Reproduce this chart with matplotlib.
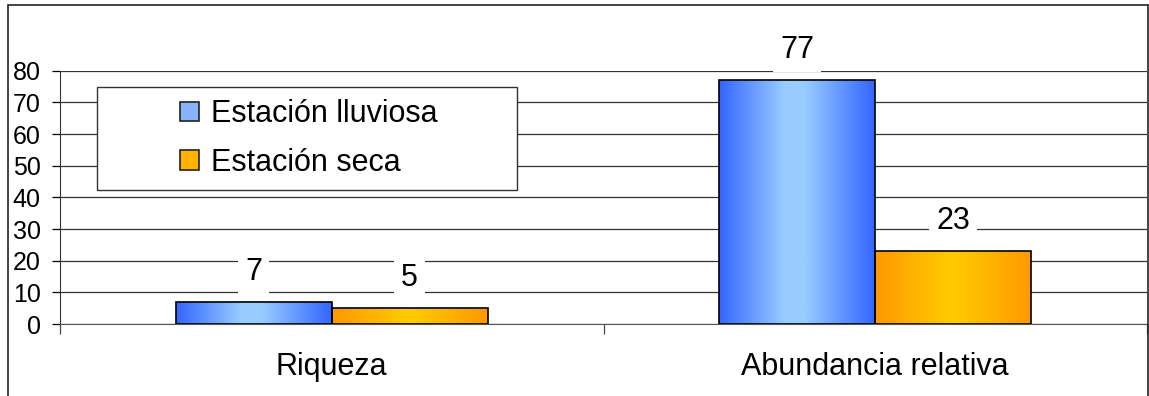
import matplotlib.pyplot as plt
import numpy as np
from matplotlib.colors import LinearSegmentedColormap
from matplotlib.patches import Patch, Rectangle

plt.rcParams['font.family'] = ['Liberation Sans', 'DejaVu Sans']

categorias = ["Riqueza", "Abundancia relativa"]
series = ["Estación lluviosa", "Estación seca"]
lluviosa = [7, 77]
seca = [5, 23]
yticks = [0, 10, 20, 30, 40, 50, 60, 70, 80]

# gradient colours (edge, centre, edge)
azul = LinearSegmentedColormap.from_list(
    "azul", [(0, "#3366FF"), (0.42, "#99CCFF"), (0.55, "#99CCFF"), (1, "#3366FF")])
naranja = LinearSegmentedColormap.from_list(
    "naranja", [(0, "#FF9900"), (0.5, "#FFCC00"), (1, "#FF9900")])

fig = plt.figure(figsize=(11.49, 3.96), dpi=100)
ax = fig.add_axes([60 / 1149, 72 / 396, 1087 / 1149, 253.3 / 396])

# outer chart frame
fig.patches.append(Rectangle((8 / 1149, -0.2), 1140 / 1149, 1.2 - 5 / 396,
                             transform=fig.transFigure, fill=False,
                             ec="#222222", lw=1.2))

x = np.arange(len(categorias))
w = 0.287
grad = np.linspace(0, 1, 256).reshape(1, -1)

for vals, off, cmap in [(lluviosa, -w / 2, azul), (seca, w / 2, naranja)]:
    bars = ax.bar(x + off, vals, w, facecolor="none", edgecolor="black",
                  linewidth=1.2, zorder=3)
    for b, v in zip(bars, vals):
        x0 = b.get_x()
        im = ax.imshow(grad, extent=[x0, x0 + w, 0, v], aspect="auto",
                       cmap=cmap, zorder=2.5, interpolation="bicubic")
        im.set_clip_path(b)
        ax.annotate(str(v), (x0 + w / 2, v), xytext=(0, 21.6),
                    textcoords="offset points", ha="center", va="center",
                    fontsize=22, zorder=4,
                    bbox=dict(fc="white", ec="none", pad=5))

ax.set_xlim(-0.5, 1.5)
ax.set_ylim(0, 80)
ax.set_yticks(yticks)
ax.tick_params(axis="y", labelsize=18, length=6, width=0.9, pad=8)
ax.set_xticks(x)
ax.set_xticklabels(categorias, fontsize=22)
ax.set_xticks([-0.5, 0.5, 1.5], minor=True)
ax.tick_params(axis="x", which="major", length=0, pad=20)
ax.tick_params(axis="x", which="minor", length=7, width=0.9, color="#444444")

ax.set_axisbelow(True)
ax.yaxis.grid(True, color="#333333", linewidth=0.9)
for s in ["top", "right"]:
    ax.spines[s].set_visible(False)
ax.spines["left"].set_color("#333333")
ax.spines["bottom"].set_color("#555555")

# legend box
ax.add_patch(Rectangle((0.034, 0.529), 0.3864, 0.407, transform=ax.transAxes,
                       fc="white", ec="#333333", lw=1.0, zorder=5))
handles = [Patch(fc="#88B4FF", ec="#222222", lw=1.2),
           Patch(fc="#FFB300", ec="#222222", lw=1.2)]
leg = ax.legend(handles, series, loc="center", bbox_to_anchor=(0.229, 0.7325),
                frameon=False, fontsize=22, handlelength=0.6, handleheight=0.6,
                handletextpad=0.4, labelspacing=0.62, borderpad=0)
leg.set_zorder(6)

fig.savefig("out.png", dpi=100)
